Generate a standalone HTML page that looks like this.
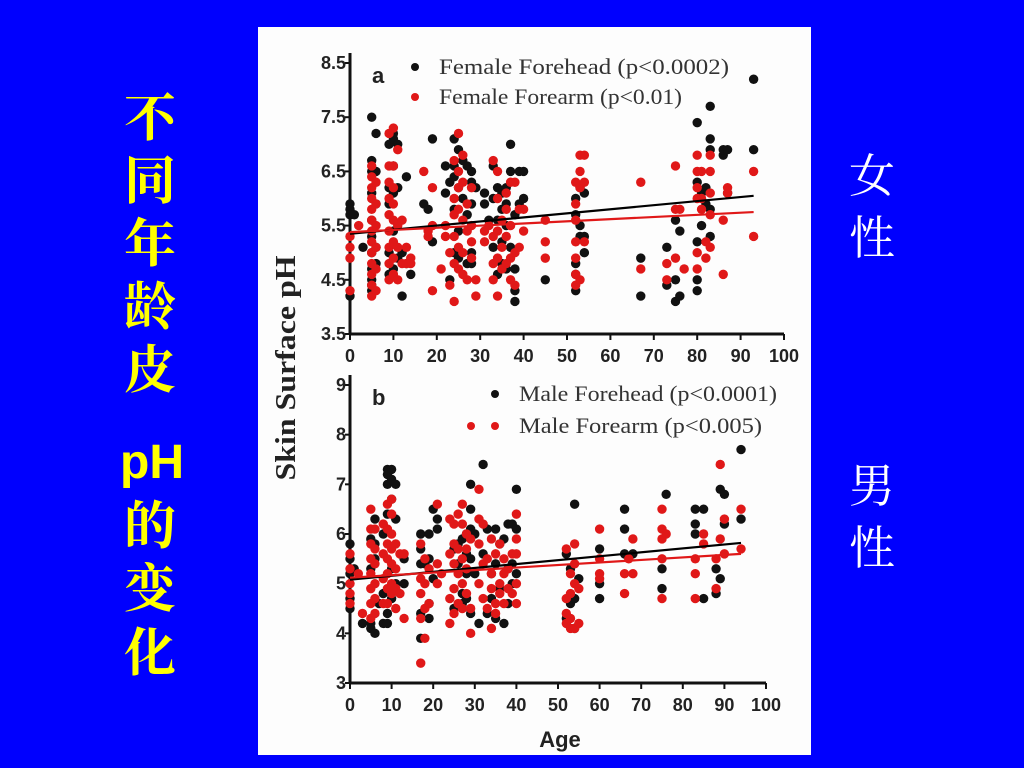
<!DOCTYPE html>
<html><head><meta charset="utf-8"><style>
html,body{margin:0;padding:0;background:#0000fe;width:1024px;height:768px;overflow:hidden}
svg{display:block}
.tk{font-family:"Liberation Sans",sans-serif;font-weight:bold;font-size:18px;fill:#222}
.lg{font-family:"Liberation Serif",serif;font-size:22px;fill:#333}
</style></head><body>
<svg id="chart" width="1024" height="768" viewBox="0 0 1024 768" xmlns="http://www.w3.org/2000/svg">
<rect x="0" y="0" width="1024" height="768" fill="#0000fe"/>
<g font-family="'Liberation Sans','Noto Serif CJK SC',serif" font-weight="bold" fill="#ffff00" text-anchor="middle">
<text x="150" y="136" font-size="52" font-family="'Noto Serif CJK SC',serif">不</text>
<text x="150" y="199" font-size="52" font-family="'Noto Serif CJK SC',serif">同</text>
<text x="150" y="262" font-size="52" font-family="'Noto Serif CJK SC',serif">年</text>
<text x="150" y="325" font-size="52" font-family="'Noto Serif CJK SC',serif">龄</text>
<text x="150" y="388" font-size="52" font-family="'Noto Serif CJK SC',serif">皮</text>
<text x="152" y="478" font-size="48">pH</text>
<text x="150" y="544" font-size="52" font-family="'Noto Serif CJK SC',serif">的</text>
<text x="150" y="607" font-size="52" font-family="'Noto Serif CJK SC',serif">变</text>
<text x="150" y="671" font-size="52" font-family="'Noto Serif CJK SC',serif">化</text>
</g>
<g font-family="'Noto Serif CJK SC',serif" fill="#ffffff" text-anchor="middle" font-size="46">
<text x="872" y="192">女</text><text x="872" y="254">性</text>
<text x="872" y="502">男</text><text x="872" y="564">性</text>
</g>
<rect x="258" y="27" width="553" height="728" fill="#fdfdfd"/>
<g id="plots"></g>
<text x="0" y="0" transform="translate(295,368) rotate(-90)" text-anchor="middle" font-family="'Liberation Serif',serif" font-weight="bold" font-size="28" textLength="225" lengthAdjust="spacingAndGlyphs" fill="#222">Skin Surface pH</text>
<text x="560" y="747" text-anchor="middle" font-family="'Liberation Sans',sans-serif" font-weight="bold" font-size="22" fill="#222">Age</text>
</svg>
<script>
const xTicks=[0,10,20,30,40,50,60,70,80,90,100];
const aYTicks=[3.5,4.5,5.5,6.5,7.5,8.5];
const bYTicks=[3,4,5,6,7,8,9];
const femaleForehead=[[0,[5.9,5.8,5.7,4.2]],[1,[5.7]],[3,[5.1]],[5,[7.5,6.7,6.5,6.1,5.6,5.3,5.0,4.7,4.5,4.4,4.3]],[6,[7.2,6.5,5.9,5.1,4.8]],[9,[7.0,6.2,5.9,5.0,4.6]],[10,[7.2,7.1,6.6,6.1,5.4,4.7]],[11,[7.0,6.2,4.9]],[12,[4.2,5.0]],[13,[6.4,4.8]],[14,[4.6]],[17,[5.9]],[18,[5.8]],[19,[7.1,5.2]],[22,[6.6,6.1]],[23,[6.3,4.5]],[24,[7.1,6.4,6.6,5.8,5.0]],[25,[6.9,6.2,5.4,4.9]],[26,[6.7,6.0]],[27,[6.6,5.7,4.8]],[28,[6.5,6.3,5.9,5.0,4.8]],[29,[6.2]],[31,[6.1,5.9]],[32,[5.6]],[33,[6.6,6.0,5.1]],[34,[6.2,5.6,4.6]],[35,[6.1,5.8,5.2,4.8]],[36,[6.2,5.9,5.5,4.7]],[37,[7.0,6.5,5.1]],[38,[5.7,4.3,4.1,4.7]],[39,[6.5,5.9]],[40,[6.0,6.5]],[45,[4.5]],[52,[6.0,5.7,4.8,4.6,4.3]],[53,[6.2,5.5,5.3]],[54,[6.1,5.3,5.0]],[67,[4.9,4.2]],[73,[5.1,4.4]],[75,[5.6,4.5,4.1]],[76,[5.4,4.2]],[80,[7.4,6.3,5.2,4.5,4.3]],[81,[6.1,5.5]],[82,[6.2,5.9]],[83,[7.7,7.1,6.9,5.8,5.3]],[86,[6.8,6.9]],[87,[6.9,6.1]],[93,[8.2,6.9]]];
const femaleForearm=[[0,[5.3,5.1,4.9,4.3]],[2,[5.5]],[5,[6.6,6.4,6.2,6.0,5.8,5.6,5.4,5.2,5.0,4.8,4.6,4.4,4.2]],[6,[6.3,5.9,5.5,5.1,4.7,4.3]],[9,[7.2,6.6,6.3,6.0,5.7,5.4,5.1,4.8,4.5]],[10,[7.3,6.6,6.2,5.9,5.6,5.2,4.9,4.6]],[11,[6.9,5.5,5.1,4.5]],[12,[5.6,4.8]],[13,[5.1,4.8]],[14,[4.9,4.8]],[17,[6.5]],[18,[5.4,5.3]],[19,[6.2,4.3,5.5]],[21,[4.7]],[22,[5.5,5.3]],[23,[5.0,4.4]],[24,[6.7,6.0,5.7,5.3,4.8,4.1]],[25,[7.2,6.5,6.2,5.8,5.1,4.7]],[26,[6.8,6.3,5.6,5.0,4.6]],[27,[5.9,5.4,4.5]],[28,[6.2,5.5,5.2,4.9]],[29,[4.2,4.5]],[31,[5.4,5.2]],[32,[5.5]],[33,[6.7,5.3,4.8,4.5]],[34,[6.5,6.0,5.4,4.9,4.2]],[35,[5.6,5.1,4.7]],[36,[6.1,5.8,5.3,4.8]],[37,[6.3,5.5,4.9,4.5]],[38,[6.3,5.0,4.4]],[39,[5.1,5.8]],[40,[5.8,5.4]],[45,[5.6,5.2,4.9]],[52,[6.3,5.9,5.6,5.2,4.9,4.6,4.4]],[53,[6.8,6.5,6.2,4.5]],[54,[6.8,6.3,5.2]],[67,[6.3,4.7]],[73,[4.8,4.5]],[75,[6.6,5.8,4.9]],[76,[5.8]],[77,[4.7]],[80,[6.8,6.5,6.2,6.0,5.0,4.7]],[81,[6.0,5.8,6.5]],[82,[5.2,4.9]],[83,[6.8,6.5,6.1,5.7,5.1]],[86,[5.6,4.6]],[87,[6.2,6.1]],[93,[6.5,5.3]]];
const maleForehead=[[0,[5.8,5.5,5.2,4.7,4.5]],[1,[5.3]],[3,[4.2]],[5,[4.2,4.1,5.9,5.3]],[6,[6.3,5.8,5.5,4.0]],[7,[4.6]],[8,[4.2,4.8,6.0]],[9,[7.3,7.2,7.0,6.4,4.4,4.2]],[10,[7.3,7.1,6.7,5.3,4.7]],[11,[7.0,6.3,5.0]],[13,[5.5,5.0]],[17,[6.0,5.7,5.4,4.4,3.9]],[18,[5.4]],[19,[6.0,5.5,4.6,4.3]],[20,[6.5,5.1]],[21,[6.3,6.1]],[25,[5.7,4.5]],[26,[5.4,5.8]],[27,[5.9,4.8,4.6]],[28,[6.0,5.6,5.2,4.7]],[29,[7.0,6.5,6.1,5.5,4.4]],[30,[6.0,5.2]],[31,[4.2]],[32,[7.4,5.6]],[33,[6.1,4.4]],[34,[5.2,4.7]],[35,[6.1,5.4,4.3]],[36,[5.8,4.9]],[37,[5.9,4.2]],[38,[6.2,5.3,4.6]],[39,[6.2,5.4,5.0]],[40,[6.9,6.1,5.2]],[52,[5.6,4.3]],[53,[5.3,4.6]],[54,[6.6,4.7,4.1]],[55,[5.1]],[60,[5.7,5.0,4.7]],[66,[6.5,6.1,5.6]],[68,[5.6]],[75,[5.3,4.9]],[76,[6.8]],[83,[6.5,6.2,6.0]],[85,[6.5,4.7]],[88,[5.3,4.8]],[89,[6.9,5.1]],[90,[6.8,6.2]],[94,[7.7,6.3]]];
const maleForearm=[[0,[5.6,5.3,5.0,4.8,4.6]],[2,[5.2]],[3,[4.4]],[5,[6.5,6.1,5.8,5.5,5.2,4.9,4.6,4.3]],[6,[6.1,5.7,5.4,5.0,4.7,4.4]],[8,[6.2,5.6,5.1,4.6]],[9,[6.6,6.1,5.8,5.5,5.2,4.9,4.6]],[10,[6.7,6.4,6.0,5.7,5.4,5.0,4.8]],[11,[5.8,5.3,4.9,4.5]],[12,[5.6,4.8]],[13,[5.6,4.3]],[17,[5.8,5.1,4.8,4.3,3.4]],[18,[5.5,5.0,3.9,4.5]],[19,[5.3,4.6]],[21,[6.6,5.4,5.0]],[22,[5.2]],[24,[6.3,5.6,4.7,4.2]],[25,[6.2,5.8,5.4,4.9,4.4]],[26,[6.4,5.7,5.2,4.6]],[27,[6.6,6.2,5.5,5.0,4.5]],[28,[6.0,5.7,5.3,4.8]],[29,[5.9,4.0,4.5]],[31,[6.9,6.3,5.8,5.0]],[32,[6.2,5.4,4.7]],[33,[5.5,4.5]],[34,[5.9,5.2,4.9,4.1]],[35,[5.6,4.6,4.4]],[36,[5.8,5.0,4.8]],[37,[5.5,5.2,4.6]],[38,[5.3,4.9]],[39,[5.6,4.8]],[40,[6.4,5.9,5.6,5.0,4.6]],[52,[5.7,4.7,4.4,4.2]],[53,[5.2,4.8,4.3,4.1]],[54,[5.8,5.4,5.0,4.1]],[55,[4.9,4.2]],[60,[6.1,5.5,5.2,5.1]],[66,[5.2,4.8]],[67,[5.5]],[68,[5.9,5.2]],[75,[6.5,6.1,5.9,5.5,4.7]],[76,[6.0]],[83,[5.5,5.2,4.7]],[85,[6.0,5.8]],[88,[5.5,4.9]],[89,[7.4,5.9]],[90,[6.3,5.6]],[94,[6.5,5.7]]];
const femaleForeheadFit=[[0,5.35],[93,6.05]];
const femaleForearmFit=[[0,5.38],[93,5.75]];
const maleForeheadFit=[[0,5.08],[94,5.82]];
const maleForearmFit=[[0,5.12],[94,5.6]];
const legendA=["Female Forehead (p<0.0002)","Female Forearm (p<0.01)"];
const legendB=["Male Forehead (p<0.0001)","Male Forearm  (p<0.005)"];

const NS="http://www.w3.org/2000/svg";
const root=document.getElementById('plots');
function mk(tag,at,parent){const e=document.createElementNS(NS,tag);for(const k in at)e.setAttribute(k,at[k]);(parent||root).appendChild(e);return e;}
function panel(cfg){
  const g=mk('g',{});
  
  
  const sx=v=>cfg.x0+(v-0)/100*(cfg.x1-cfg.x0);
  const sy=v=>cfg.yb+(v-cfg.ymin)/(cfg.ymax-cfg.ymin)*(cfg.yt-cfg.yb);
  const ax=mk('line',{x1:cfg.x0,y1:cfg.yt-10,x2:cfg.x0,y2:cfg.yb,stroke:'#111','stroke-width':3},g);
  
  
  const bx=mk('line',{x1:cfg.x0,y1:cfg.yb,x2:cfg.x1,y2:cfg.yb,stroke:'#111','stroke-width':3},g);
  
  
  cfg.yTicks.forEach(t=>{
    const y=sy(t);
    mk('line',{x1:cfg.x0-5,y1:y,x2:cfg.x0,y2:y,stroke:'#111','stroke-width':2},g);
    const tx=mk('text',{x:cfg.x0-4,y:y+6,'text-anchor':'end',class:'tk'},g);
    tx.textContent=String(t);
    
    
  });
  xTicks.forEach(t=>{
    const x=sx(t);
    mk('line',{x1:x,y1:cfg.yb,x2:x,y2:cfg.yb+6,stroke:'#111','stroke-width':2},g);
    const tx=mk('text',{x:x,y:cfg.yb+28,'text-anchor':'middle',class:'tk'},g);
    tx.textContent=String(t);
    
    
  });
  cfg.series.forEach(s=>{
    const sg=mk('g',{fill:s.color},g);
    
    
    s.data.forEach(([age,vals])=>vals.forEach(v=>{
      const c=mk('circle',{cx:sx(age),cy:sy(v),r:4.7},sg);
      
      
    }));
  });
  cfg.series.forEach(s=>{
    const f=s.fit;
    const l=mk('line',{x1:sx(f[0][0]),y1:sy(f[0][1]),x2:sx(f[1][0]),y2:sy(f[1][1]),stroke:s.lineColor,'stroke-width':2.2},g);
    
    
  });
  const lb=mk('text',{x:cfg.x0+22,y:cfg.yt+20,'font-family':'Liberation Sans,sans-serif','font-weight':'bold','font-size':22,fill:'#222'},g);
  lb.textContent=cfg.label;
  
  
  cfg.legend.forEach((t,i)=>{
    const lg=mk('g',{},g);
    
    
    const y=cfg.legY+i*cfg.legGap;
    if(cfg.doubleDot&&i===1){mk('circle',{cx:cfg.legX-24,cy:y,r:4,fill:cfg.series[i].color},lg);}
    mk('circle',{cx:cfg.legX,cy:y,r:4,fill:cfg.series[i].color},lg);
    const tx=mk('text',{x:cfg.legX+24,y:y+7,class:'lg',textLength:cfg.legLen[i],lengthAdjust:'spacingAndGlyphs'},lg);
    tx.textContent=t;
  });
}
panel({name:'panel-a-female',x0:350,x1:784,yt:63,yb:334,ymin:3.5,ymax:8.5,yTicks:aYTicks,label:'a',legend:legendA,legLen:[290,243],legX:415,legY:67,legGap:30,
  series:[{name:'female-forehead',color:'#111',lineColor:'#000',data:femaleForehead,fit:femaleForeheadFit},
          {name:'female-forearm',color:'#e01818',lineColor:'#e01818',data:femaleForearm,fit:femaleForearmFit}]});
panel({name:'panel-b-male',x0:350,x1:766,yt:385,yb:683,ymin:3,ymax:9,yTicks:bYTicks,label:'b',legend:legendB,legLen:[258,243],legX:495,legY:394,legGap:32,doubleDot:true,
  series:[{name:'male-forehead',color:'#111',lineColor:'#000',data:maleForehead,fit:maleForeheadFit},
          {name:'male-forearm',color:'#e01818',lineColor:'#e01818',data:maleForearm,fit:maleForearmFit}]});
</script>
</body></html>
